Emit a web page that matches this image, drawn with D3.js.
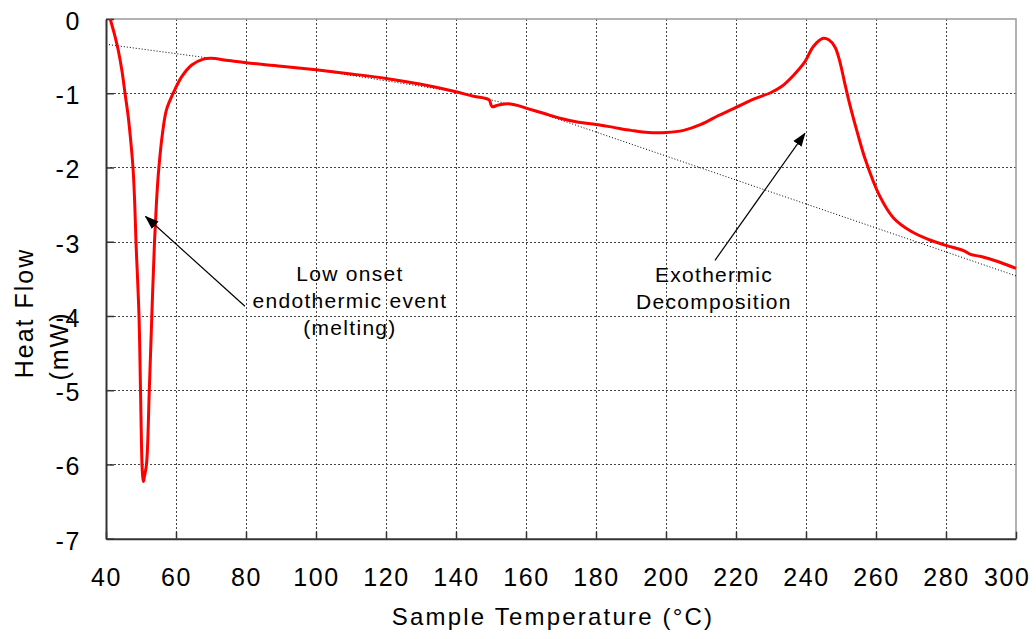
<!DOCTYPE html>
<html>
<head>
<meta charset="utf-8">
<script src="https://cdn.jsdelivr.net/npm/d3@7"></script>
<style>
  body { margin: 0; background: #fff; }
  svg { display: block; }
  text { font-family: "Liberation Sans", Arial, sans-serif; fill: #000; }
</style>
</head>
<body>
<svg id="chart" width="1036" height="639"></svg>
<script>
// DSC trace: sample temperature (°C) vs heat flow (mW)
const temperature = [41.2, 42.5, 43.5, 44.57, 45.43, 46.26, 46.86, 47.71, 48.17, 48.57, 49.43, 49.86, 50.29, 50.5, 50.7, 50.95,
  51.57, 52.37, 53.09, 53.86, 54.46, 55.11, 56.14, 57.29, 59.2, 61.6, 64.5, 67.8, 70, 75, 80, 90, 100, 110, 120, 130,
  140, 145, 148.5, 149.5, 150.3, 152, 155, 158, 160, 165, 170, 175, 180, 185, 190, 195, 200, 205, 210,
  215, 220, 225, 230, 233, 236.4, 239.7, 242.1, 244.9, 246.5, 248.3, 249.7, 251.0, 252.5, 254.5, 257, 261, 265, 270, 275,
  280, 285, 287, 290, 295, 300];
const heatFlow = [0.00, -0.22, -0.42, -0.70, -1.00, -1.28, -1.54, -2.00, -2.44, -3.00, -4.00, -5.00, -6.00, -6.17, -6.23, -6.17,
  -6.00, -5.00, -4.00, -3.00, -2.44, -2.00, -1.54, -1.22, -1.00, -0.78, -0.62, -0.54, -0.53, -0.56, -0.59, -0.635, -0.685, -0.74, -0.80, -0.88,
  -0.98, -1.04, -1.07, -1.09, -1.18, -1.16, -1.14, -1.17, -1.20, -1.27, -1.34, -1.39, -1.42, -1.46, -1.50, -1.53, -1.53, -1.50, -1.42,
  -1.30, -1.19, -1.08, -0.99, -0.91, -0.76, -0.575, -0.37, -0.26, -0.28, -0.38, -0.58, -0.85, -1.15, -1.50, -1.90, -2.38, -2.68, -2.86, -2.97,
  -3.05, -3.12, -3.17, -3.20, -3.27, -3.36];

// Extrapolated baseline (dotted); runs under the trace between ~70 and 160 °C
const baselineTemp = [40, 70, 100, 140, 160, 300];
const baselineFlow = [-0.34, -0.53, -0.685, -0.98, -1.20, -3.46];

const xTicks = [40, 60, 80, 100, 120, 140, 160, 180, 200, 220, 240, 260, 280, 300];
const yTicks = [0, -1, -2, -3, -4, -5, -6, -7];
const xTitle = "Sample Temperature (°C)";
const yTitleLines = ["Heat Flow", "(mW)"];

const meltNote = ["Low onset", "endothermic event", "(melting)"];
const decompNote = ["Exothermic", "Decomposition"];

const svg = d3.select("#chart");
const m = { left: 106, right: 20, top: 19, bottom: 100 };
const W = 1036, H = 639;
const x = d3.scaleLinear().domain([40, 300]).range([m.left, W - m.right]);
const y = d3.scaleLinear().domain([-7, 0]).range([H - m.bottom - 0.3, m.top]);

// arrow marker
svg.append("defs").append("marker")
  .attr("id", "arrow").attr("markerUnits", "userSpaceOnUse")
  .attr("viewBox", "0 -6 14 12").attr("refX", 13).attr("refY", 0)
  .attr("markerWidth", 14).attr("markerHeight", 12).attr("orient", "auto")
  .append("path").attr("d", "M0,-5L14,0L0,5Z").attr("fill", "#000");

// grid
const grid = svg.append("g").attr("stroke", "#444").attr("stroke-width", 1).attr("stroke-dasharray", "2,2");
grid.selectAll("line.v").data(xTicks.filter(t => t > 40 && t < 300)).join("line")
  .attr("x1", d => Math.round(x(d)) + 0.5).attr("x2", d => Math.round(x(d)) + 0.5)
  .attr("y1", y(0)).attr("y2", y(-7));
grid.selectAll("line.h").data(yTicks.filter(t => t < 0 && t > -7)).join("line")
  .attr("y1", d => Math.round(y(d)) + 0.5).attr("y2", d => Math.round(y(d)) + 0.5)
  .attr("x1", x(40)).attr("x2", x(300));

// frame (top / right)
svg.append("path")
  .attr("d", `M${x(40)},${y(0)}H${x(300)}V${y(-7)}`)
  .attr("fill", "none").attr("stroke", "#999").attr("stroke-width", 1.5);

// baseline
const line = d3.line().x(d => x(d[0])).y(d => y(d[1]));
svg.append("path")
  .datum(baselineTemp.map((t, i) => [t, baselineFlow[i]]))
  .attr("d", line).attr("fill", "none")
  .attr("stroke", "#000").attr("stroke-width", 1).attr("stroke-dasharray", "1,2");

// axes
const xAxis = d3.axisBottom(x).tickValues(xTicks).tickSizeInner(-7).tickSizeOuter(0).tickPadding(30)
  .tickFormat(d => String(d));
const yAxis = d3.axisLeft(y).tickValues(yTicks).tickSizeInner(-8).tickSizeOuter(0).tickPadding(25)
  .tickFormat(d => String(d));

const gx = svg.append("g").attr("transform", `translate(0,${y(-7)})`).call(xAxis);
const gy = svg.append("g").attr("transform", `translate(${x(40)},0)`).call(yAxis);
[gx, gy].forEach(g => {
  g.select(".domain").attr("stroke", "#333").attr("stroke-width", 2);
  g.selectAll(".tick line").attr("stroke", "#333").attr("stroke-width", 1.5);
  g.selectAll(".tick text").attr("font-size", 25).attr("letter-spacing", "1.6px")
    .attr("font-family", "Liberation Sans, Arial, sans-serif").attr("fill", "#000");
});
gx.selectAll(".tick text").attr("dy", "0.71em").attr("y", 30)
  .attr("text-anchor", d => d === 300 ? "end" : "middle")
  .attr("dx", d => d === 300 ? 14 : 0);
gy.selectAll(".tick text").attr("dy", "0.42em").attr("x", -25);

// titles
svg.append("text").attr("x", 553).attr("y", 625).attr("text-anchor", "middle")
  .attr("font-size", 24).attr("letter-spacing", "2.2px").text(xTitle);
yTitleLines.forEach((s, i) => {
  const cy = i === 0 ? 313 : 346;
  const bx = i === 0 ? 33 : 67.5;
  svg.append("text").attr("transform", `translate(${bx},${cy}) rotate(-90)`)
    .attr("text-anchor", "middle").attr("font-size", 25).attr("letter-spacing", "2px").text(s);
});

// data curve
svg.append("path")
  .datum(temperature.map((t, i) => [t, heatFlow[i]]))
  .attr("d", d3.line().x(d => x(d[0])).y(d => y(d[1])).curve(d3.curveCatmullRom.alpha(0.5)))
  .attr("fill", "none").attr("stroke", "#ff0000").attr("stroke-width", 3)
  .attr("stroke-linejoin", "round");

// annotations
const arrows = [
  { from: [79.7, -3.87], to: [51.3, -2.66] },
  { from: [214.0, -3.25], to: [239.7, -1.54] }
];
svg.append("g").selectAll("line").data(arrows).join("line")
  .attr("x1", d => x(d.from[0])).attr("y1", d => y(d.from[1]))
  .attr("x2", d => x(d.to[0])).attr("y2", d => y(d.to[1]))
  .attr("stroke", "#000").attr("stroke-width", 1.2).attr("marker-end", "url(#arrow)");

function note(lines, cx, top, lh) {
  lines.forEach((s, i) => {
    svg.append("text").attr("x", cx).attr("y", top + i * lh).attr("text-anchor", "middle")
      .attr("font-size", 21).attr("letter-spacing", "1.3px").text(s);
  });
}
note(meltNote, x(109.7), 281, 27);
note(decompNote, x(213.7), 282, 27);
</script>
</body>
</html>
